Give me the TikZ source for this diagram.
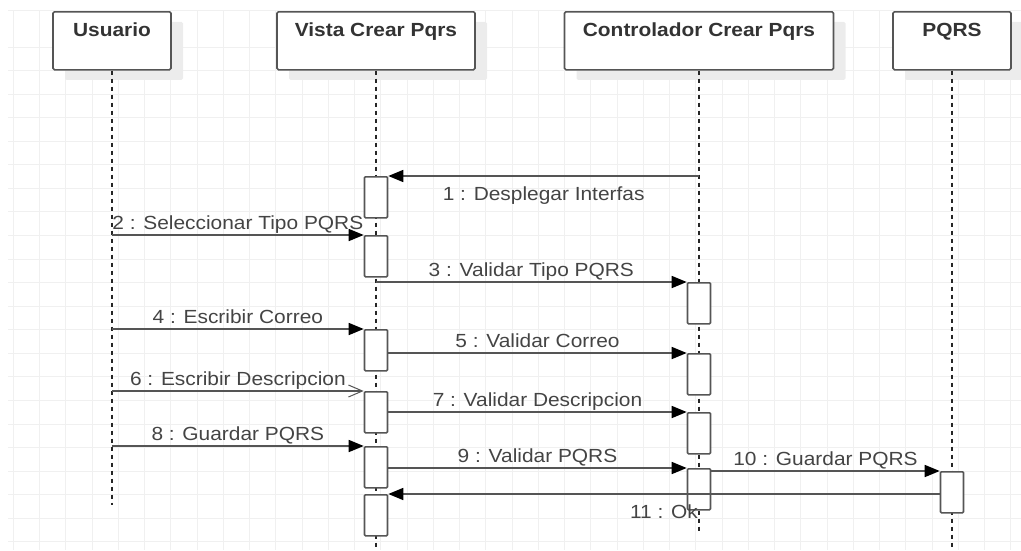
\documentclass[tikz,border=0pt]{standalone}
\usepackage{fontspec}
\setmainfont{Liberation Sans}[FakeStretch=1.1]
\usetikzlibrary{arrows.meta,positioning,shadows}
\definecolor{sqline}{HTML}{555555}
\definecolor{sqtext}{HTML}{444444}
\definecolor{sqgrid}{HTML}{F0F0F0}
\definecolor{sqshadow}{HTML}{ECECEC}
\newcommand{\sqfont}{\fontsize{19}{22}\selectfont}

\begin{document}
\begin{tikzpicture}[x=1pt,y=-1pt,
  head/.style={rectangle,draw=sqline,line width=1.6pt,fill=white,
               rounded corners=1.5pt,font=\sqfont\bfseries,text=black!80,
               inner xsep=4pt,inner ysep=4pt,text height=21pt,text depth=29pt,
               anchor=north,
               drop shadow={shadow xshift=12pt,shadow yshift=-10pt,
                            fill=sqshadow,opacity=1}},
  act/.style={rectangle,draw=sqline,line width=1.6pt,fill=white,
              rounded corners=1pt,minimum width=23pt,minimum height=41pt,
              inner sep=0pt,anchor=north},
  life/.style={black!85,line width=1.6pt,dash pattern=on 4pt off 4pt},
  msg/.style={sqline,line width=1.6pt,-{Triangle[black,length=15pt,width=12pt]}},
  msgopen/.style={sqline,line width=1.6pt,
                  -{Straight Barb[length=14pt,width=12pt,line width=1pt]}},
  lblup/.style={font=\sqfont,text=sqtext,midway,anchor=base,inner sep=0pt,yshift=6pt},
  lbldown/.style={font=\sqfont,text=sqtext,midway,anchor=base,inner sep=0pt,yshift=-24pt}
]
  \useasboundingbox (0,0) rectangle (1021,550);

  % ---- Background grid ---------------------------------------
  \foreach \gx in {0,...,38}
    \draw[sqgrid,line width=1pt] ({13.3+26.25*\gx},10) -- ({13.3+26.25*\gx},550);
  \draw[sqgrid,line width=1pt] (8,10) -- (1021,10);
  \foreach \gy in {0,...,21}
    \draw[sqgrid,line width=1pt] (8,{47+23.57*\gy}) -- (1021,{47+23.57*\gy});

  % ---- Participants ------------------------------------------
  \node[head,minimum width=118pt] (usr) at (112,11) {Usuario};
  \node[head,minimum width=198pt] (vis) at (376,11) {Vista Crear Pqrs};
  \node[head,minimum width=269pt] (ctl) at (699,11) {Controlador Crear Pqrs};
  \node[head,minimum width=118pt] (pqrs) at (952,11) {PQRS};

  % ---- Lifelines ---------------------------------------------
  \coordinate (usrend) at (112,505);
  \coordinate (visend) at (376,550);
  \coordinate (ctlend) at (699,531);
  \coordinate (pqrsend) at (952,550);
  \draw[life] (usr.south) -- (usrend);
  \draw[life] (vis.south) -- (visend);
  \draw[life] (ctl.south) -- (ctlend);
  \draw[life] (pqrs.south) -- (pqrsend);

  % ---- Activations -------------------------------------------
  % Vista
  \node[act] (v1) at (376,176) {};
  \node[act] (v2) at (376,235) {};
  \node[act] (v3) at (376,329) {};
  \node[act] (v4) at (376,391) {};
  \node[act] (v5) at (376,446) {};
  \node[act] (v6) at (376,494) {};
  % Controlador
  \node[act] (c1) at (699,282) {};
  \node[act] (c2) at (699,353) {};
  \node[act] (c3) at (699,412) {};
  \node[act] (c4) at (699,468) {};
  % PQRS
  \node[act] (p1) at (952,471) {};

  % ---- Messages ----------------------------------------------
  \draw[msg] (ctl |- v1.north east) to node[lbldown]{1 : Desplegar Interfas} (v1.north east);
  \draw[msg] (usr |- v2.north west) to node[lblup]{2 : Seleccionar Tipo PQRS} (v2.north west);
  \draw[msg] (vis |- c1.north west) to node[lblup]{3 : Validar Tipo PQRS} (c1.north west);
  \draw[msg] (usr |- v3.north west) to node[lblup]{4 : Escribir Correo} (v3.north west);
  \draw[msg] (v3.east |- c2.north west) to node[lblup]{5 : Validar Correo} (c2.north west);
  \draw[msgopen] (usr |- v4.north west) to node[lblup]{6 : Escribir Descripcion} (v4.north west);
  \draw[msg] (v4.east |- c3.north west) to node[lblup]{7 : Validar Descripcion} (c3.north west);
  \draw[msg] (usr |- v5.north west) to node[lblup]{8 : Guardar PQRS} (v5.north west);
  \draw[msg] (v5.east |- c4.north west) to node[lblup]{9 : Validar PQRS} (c4.north west);
  \draw[msg] (c4.east |- p1.north west) to node[lblup]{10 : Guardar PQRS} (p1.north west);
  \draw[msg] (p1.west |- v6.north east) to node[lbldown]{11 : Ok} (v6.north east);

\end{tikzpicture}
\end{document}
